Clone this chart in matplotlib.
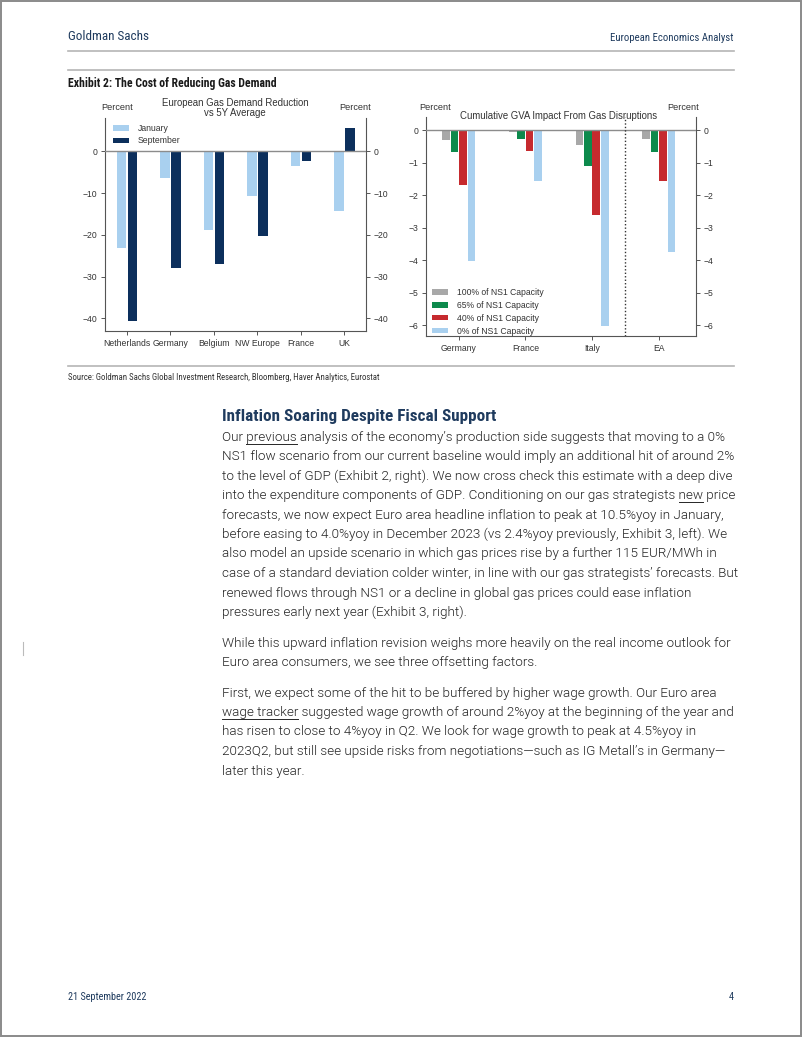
import matplotlib
matplotlib.use('Agg')
import matplotlib.pyplot as plt
from matplotlib import font_manager as fm
from matplotlib.font_manager import FontProperties
from matplotlib.lines import Line2D
from matplotlib.patches import Rectangle
import numpy as np

# ---------------- data ----------------
countries = ['Netherlands', 'Germany', 'Belgium', 'NW Europe', 'France', 'UK']
jan = [-23.1, -6.3, -18.9, -10.7, -3.4, -14.2]
sep = [-40.6, -28.0, -27.0, -20.2, -2.4, 5.6]
left_yticks = [0, -10, -20, -30, -40]

regions = ['Germany', 'France', 'Italy', 'EA']
cap100 = [-0.30, -0.06, -0.45, -0.27]
cap65 = [-0.68, -0.29, -1.12, -0.67]
cap40 = [-1.68, -0.65, -2.60, -1.58]
cap0 = [-4.02, -1.58, -6.03, -3.75]
cap_labels = ['100% of NS1 Capacity', '65% of NS1 Capacity',
              '40% of NS1 Capacity', '0% of NS1 Capacity']
right_yticks = [0, -1, -2, -3, -4, -5, -6]

# ---------------- fonts ----------------
SANS = 'Liberation Sans'


def find_cond(bold):
    prefs = ['Liberation Sans Narrow', 'Roboto Condensed', 'Open Sans Condensed', 'DejaVu Sans',
             'Noto Sans', 'Open Sans', 'Roboto']
    best = None
    for fam in prefs:
        for f in fm.fontManager.ttflist:
            nm = (f.fname + ' ' + f.name).lower()
            if f.name != fam and not f.name.startswith(fam):
                continue
            if not ('condensed' in nm or 'narrow' in nm or f.stretch in ('condensed', 'semi-condensed',
                                                                           'extra-condensed')):
                continue
            if 'italic' in nm or 'oblique' in nm or 'mono' in nm or 'serif' in nm:
                continue
            w = f.weight if isinstance(f.weight, int) else (700 if 'bold' in str(f.weight) else 400)
            target = 700 if bold else 400
            score = abs(w - target)
            if 'extra' in nm or 'semi' in nm:
                score += 50
            if best is None or score < best[0]:
                best = (score, f.fname)
        if best is not None and best[0] < 150:
            return FontProperties(fname=best[1])
    return FontProperties(family=SANS, weight='bold' if bold else 'normal')


COND_R = find_cond(False)
COND_B = find_cond(True)


def find_light():
    for fam in ['Roboto', 'Inter', 'Open Sans', 'Noto Sans']:
        for f in fm.fontManager.ttflist:
            nm = f.fname.lower()
            if f.name == fam and f.weight == 300 and 'italic' not in nm:
                return FontProperties(fname=f.fname)
    return FontProperties(family=SANS)


BODY = find_light()

# ---------------- helpers ----------------
W, H = 802, 1037
fig = plt.figure(figsize=(W / 100, H / 100), dpi=100)
renderer = fig.canvas.get_renderer()


def fx(x):
    return x / W


def fy(y):
    return 1 - y / H


def rect(l, t, r, b):
    return [l / W, 1 - b / H, (r - l) / W, (b - t) / H]


def measure(s, fp, size):
    fp = fp.copy()
    fp.set_size(size)
    t = fig.text(0, 0, s, fontproperties=fp)
    w = t.get_window_extent(renderer).width
    t.remove()
    return w


def fit_text(x, y, s, fp, width, maxsize, ha='left', **kw):
    size = min(maxsize, 10 * width / measure(s, fp, 10))
    fp = fp.copy()
    fp.set_size(size)
    return fig.text(fx(x), fy(y), s, fontproperties=fp, ha=ha, va='center', **kw)


NAVY = '#1f3b5e'
GRID = '#555555'
TXT = '#333333'

# page border
fig.add_artist(Rectangle((0.6 / W, 0.6 / H), 1 - 1.2 / W, 1 - 1.2 / H, transform=fig.transFigure,
                         fill=False, ec='#8a8a8a', lw=1.4))

# header
fit_text(68, 36, 'Goldman Sachs', COND_R, 82, 11, color=NAVY)
fit_text(734, 38, 'European Economics Analyst', COND_R, 122, 8.5, ha='right', color=NAVY)
for yy in (51, 70):
    fig.add_artist(Line2D([fx(68), fx(734)], [fy(yy), fy(yy)], color='#b5b5b5', lw=1.2))
fit_text(68, 83, 'Exhibit 2: The Cost of Reducing Gas Demand', COND_B, 210, 9, color='#1a1a1a')


def style_axes(ax):
    ax.set_facecolor('none')
    ax.spines['top'].set_visible(False)
    for s in ('left', 'right', 'bottom'):
        ax.spines[s].set_color(GRID)
        ax.spines[s].set_linewidth(0.8)
    ax.tick_params(axis='both', direction='out', length=3, width=0.7, colors=GRID,
                   labelcolor=TXT, labelsize=6.2, pad=2.5)
    ax.tick_params(axis='y', right=True, labelright=True)
    for lab in ax.get_xticklabels() + ax.get_yticklabels():
        lab.set_family(SANS)


# ---------------- left chart ----------------
ax1 = fig.add_axes(rect(105, 118, 366, 331))
x1 = np.arange(len(countries))
ax1.bar(x1 - 0.125, jan, 0.22, color='#a9d0ef', label='January', zorder=2)
ax1.bar(x1 + 0.13, sep, 0.22, color='#0c2f5c', label='September', zorder=2)
ax1.axhline(0, color='#8c8c8c', lw=1, zorder=3)
ax1.set_xlim(-0.5, 5.5)
ax1.set_ylim(-43, 8)
ax1.set_yticks(left_yticks)
ax1.set_xticks(x1, countries)
style_axes(ax1)
leg1 = ax1.legend(loc='upper left', bbox_to_anchor=(fx(113), fy(124)), bbox_transform=fig.transFigure,
                  frameon=False, prop={'family': SANS, 'size': 6.2}, handlelength=1.9, handleheight=0.6,
                  handletextpad=1.0, labelspacing=0.4, borderpad=0, borderaxespad=0)
for t in leg1.get_texts():
    t.set_color(TXT)
fig.text(fx(235), fy(108), 'European Gas Demand Reduction\nvs 5Y Average', family=SANS, fontsize=6.9,
         color=TXT, ha='center', va='center', linespacing=0.92)
fig.text(fx(117), fy(107), 'Percent', family=SANS, fontsize=6.6, color=TXT, ha='center', va='center')
fig.text(fx(355), fy(107), 'Percent', family=SANS, fontsize=6.6, color=TXT, ha='center', va='center')

# ---------------- right chart ----------------
ax2 = fig.add_axes(rect(426, 117, 696, 336))
x2 = np.arange(len(regions))
cols = ['#a8a8a8', '#0d8a4c', '#c62a2e', '#a9d0ef']
offs = [-0.19, -0.063, 0.063, 0.19]
for vals, off, c, lab in zip([cap100, cap65, cap40, cap0], offs, cols, cap_labels):
    ax2.bar(x2 + off, vals, 0.115, color=c, label=lab, zorder=2)
ax2.axhline(0, color='#8c8c8c', lw=1, zorder=3)
ax2.axvline(2.5, color='#333333', lw=1, ls=(0, (1, 1.5)), zorder=3)
ax2.set_xlim(-0.49, 3.56)
ax2.set_ylim(-6.33, 0.4)
ax2.set_yticks(right_yticks)
ax2.set_xticks(x2, regions)
style_axes(ax2)
leg2 = ax2.legend(loc='upper left', bbox_to_anchor=(fx(432), fy(288)), bbox_transform=fig.transFigure,
                  frameon=False, prop={'family': SANS, 'size': 6.2}, handlelength=1.9, handleheight=0.6,
                  handletextpad=1.0, labelspacing=0.45, borderpad=0, borderaxespad=0)
for t in leg2.get_texts():
    t.set_color(TXT)
fig.text(fx(559), fy(116), 'Cumulative GVA Impact From Gas Disruptions', family=SANS, fontsize=6.9,
         color=TXT, ha='center', va='center')
fig.text(fx(435), fy(107), 'Percent', family=SANS, fontsize=6.6, color=TXT, ha='center', va='center')
fig.text(fx(683), fy(107), 'Percent', family=SANS, fontsize=6.6, color=TXT, ha='center', va='center')

# source
fig.add_artist(Line2D([fx(68), fx(734)], [fy(366), fy(366)], color='#b5b5b5', lw=1.2))
fit_text(68, 377, 'Source: Goldman Sachs Global Investment Research, Bloomberg, Haver Analytics, Eurostat',
         COND_R, 312, 7.5, color='#333333')

# ---------------- body text ----------------
X0 = 222
fit_text(X0, 417, 'Inflation Soaring Despite Fiscal Support', COND_B, 273, 13.5, color=NAVY)

paragraphs = [
    ["Our previous analysis of the economy\u2019s production side suggests that moving to a 0%",
     "NS1 flow scenario from our current baseline would imply an additional hit of around 2%",
     "to the level of GDP (Exhibit 2, right). We now cross check this estimate with a deep dive",
     "into the expenditure components of GDP. Conditioning on our gas strategists new price",
     "forecasts, we now expect Euro area headline inflation to peak at 10.5%yoy in January,",
     "before easing to 4.0%yoy in December 2023 (vs 2.4%yoy previously, Exhibit 3, left). We",
     "also model an upside scenario in which gas prices rise by a further 115 EUR/MWh in",
     "case of a standard deviation colder winter, in line with our gas strategists\u2019 forecasts. But",
     "renewed flows through NS1 or a decline in global gas prices could ease inflation",
     "pressures early next year (Exhibit 3, right)."],
    ["While this upward inflation revision weighs more heavily on the real income outlook for",
     "Euro area consumers, we see three offsetting factors."],
    ["First, we expect some of the hit to be buffered by higher wage growth. Our Euro area",
     "wage tracker suggested wage growth of around 2%yoy at the beginning of the year and",
     "has risen to close to 4%yoy in Q2. We look for wage growth to peak at 4.5%yoy in",
     "2023Q2, but still see upside risks from negotiations\u2014such as IG Metall\u2019s in Germany\u2014",
     "later this year."],
]
underlines = {0: 'previous', 3: 'new', 13: 'wage tracker'}

body_fs = 10 * 510 / measure(paragraphs[0][1], BODY, 10)
BODYP = BODY.copy()
BODYP.set_size(body_fs)

LS = 19.5
PG = 11.0
y = 437
idx = 0
for para in paragraphs:
    for line in para:
        fig.text(fx(X0), fy(y), line, fontproperties=BODYP, color='#262626', va='center', ha='left')
        if idx in underlines:
            word = underlines[idx]
            k = line.index(word)
            pre = line[:k + len(word)]
            x_end = measure(pre, BODY, body_fs)
            x_start = x_end - measure(word, BODY, body_fs)
            fig.add_artist(Line2D([fx(X0 + x_start), fx(X0 + x_end)], [fy(y + 6.5), fy(y + 6.5)],
                                  color='#262626', lw=0.7))
        y += LS
        idx += 1
    y += PG

# small margin mark
fig.add_artist(Line2D([fx(23), fx(23)], [fy(642), fy(655)], color='#bbbbbb', lw=0.8))

# footer
fit_text(68, 997, '21 September 2022', COND_R, 78, 8.5, color=NAVY)
fit_text(734, 997, '4', COND_R, 5, 8, ha='right', color=NAVY)

fig.savefig('out.png', dpi=100)
